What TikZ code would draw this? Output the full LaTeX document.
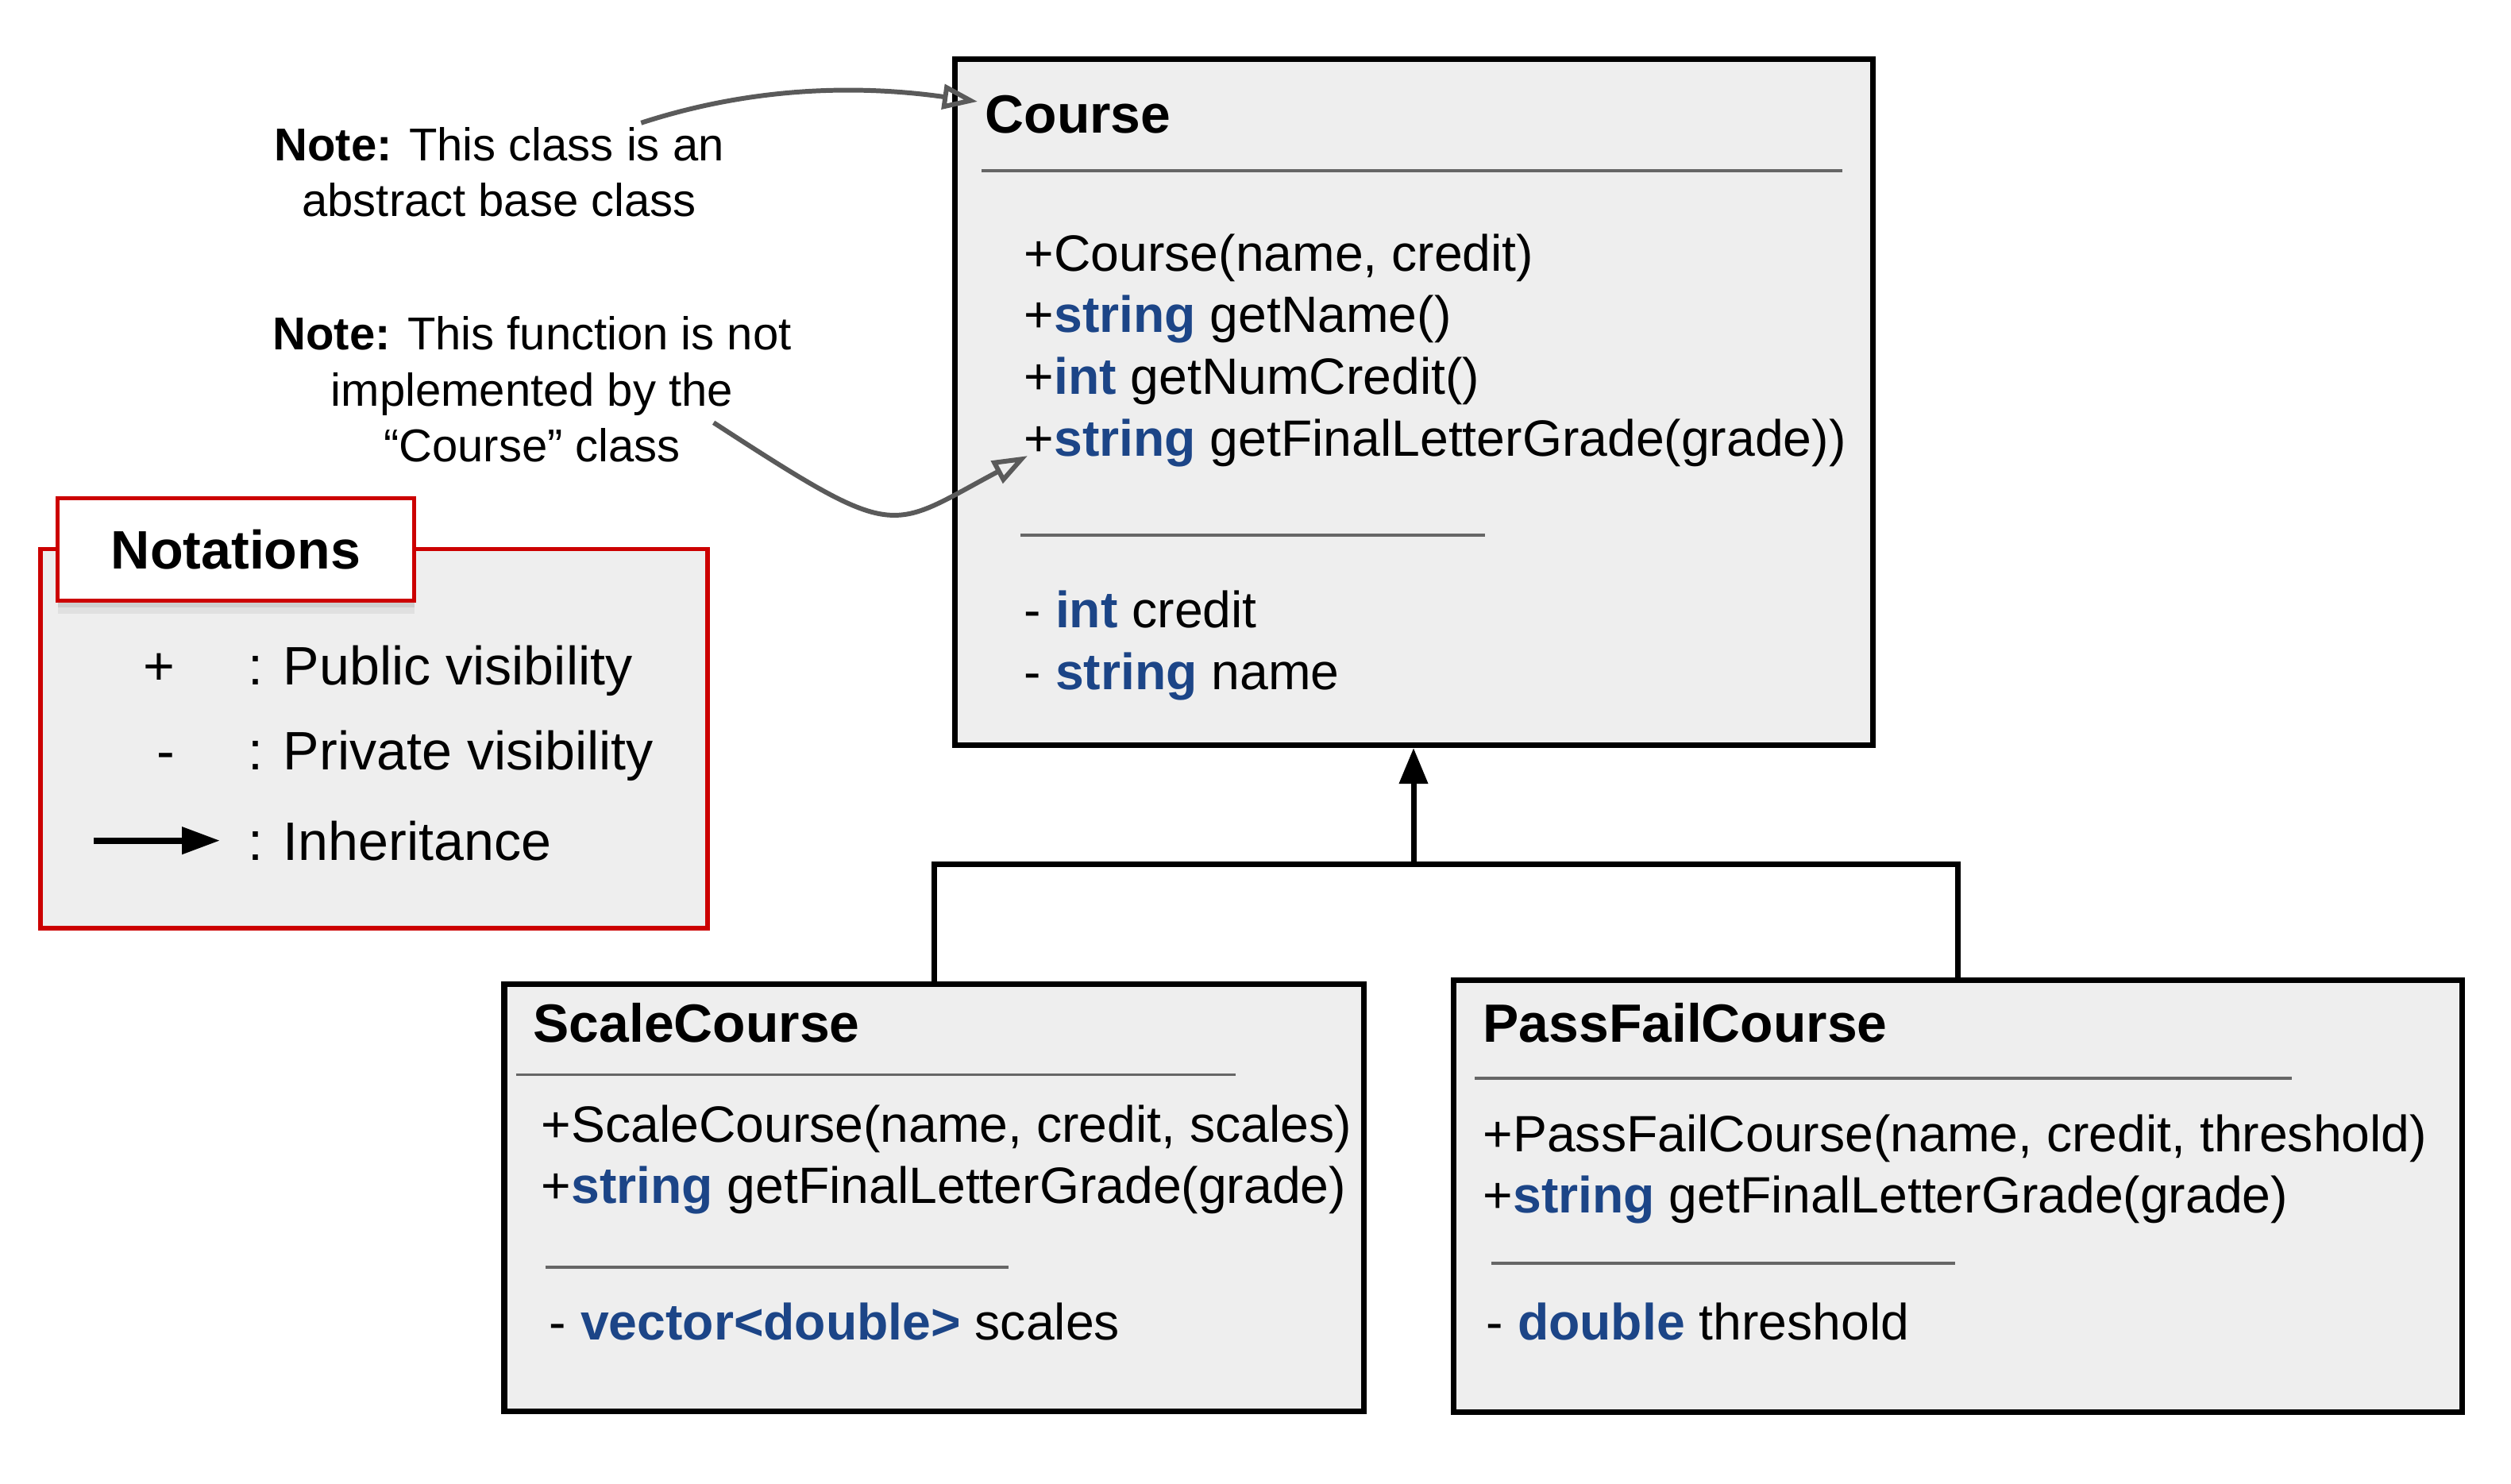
\documentclass[tikz,border=0pt]{standalone}
\usepackage{fontspec}
\setmainfont{Liberation Sans}
\usepackage{xcolor}
\usetikzlibrary{positioning,arrows.meta,shadows}

\definecolor{boxgray}{HTML}{EEEEEE}
\definecolor{typeblue}{RGB}{28,69,135}
\definecolor{notered}{HTML}{CC0000}
\definecolor{rulegray}{HTML}{666666}
\definecolor{notegray}{HTML}{5A5A5A}

\newcommand{\ctype}[1]{\textcolor{typeblue}{\textbf{#1}}}

\begin{document}
\begin{tikzpicture}[%
    >={Triangle[length=0.45cm,width=0.35cm]},
    classbox/.style={%
      draw,
      line width=2pt,
      fill=boxgray
    },
    classname/.style={%
      anchor=base west,
      inner sep=0pt,
      font=\fontsize{19.3}{23}\selectfont\bfseries
    },
    member/.style={%
      anchor=base west,
      inner sep=0pt,
      font=\fontsize{18.3}{22}\selectfont
    },
    divider/.style={draw=rulegray, line width=0.9pt},
    legend/.style={inner sep=0pt, font=\fontsize{19.4}{23}\selectfont},
    note/.style={anchor=base, inner sep=0pt, font=\fontsize{16.5}{20}\selectfont},
    notearrow/.style={%
      draw=notegray,
      line width=1.7pt,
      -{Triangle[open,length=0.44cm,width=0.31cm]}
    },
    connector/.style={line width=2pt}
  ]
  \useasboundingbox (0,0) rectangle (31.62,-18.68);

  % legend
  \node[draw=notered, line width=1.7pt, fill=boxgray, minimum width=8.40cm, minimum height=4.77cm] (legend) at (4.71,-9.30) {};
  \node[draw=notered, line width=1.7pt, fill=white, minimum width=4.49cm, minimum height=1.29cm,
        drop shadow={opacity=0.12, shadow xshift=0pt, shadow yshift=-0.16cm},
        drop shadow={opacity=0.18, shadow xshift=0pt, shadow yshift=-0.08cm},
        font=\fontsize{19.4}{23}\selectfont\bfseries] (notations) at (2.97,-6.92) {Notations};
  \node[legend, anchor=base] (plus) at (2.00,-8.62) {+};
  \node[legend, anchor=base] (minus) at (2.09,-9.69) {-};
  \node[legend, anchor=base west] (public) at (3.12,-8.62) {: Public visibility};
  \node[legend, anchor=base west] (private) at (3.12,-9.69) {: Private visibility};
  \node[legend, anchor=base west] (inheritance) at (3.12,-10.83) {: Inheritance};
  \coordinate (legend-tip) at ([xshift=-0.35cm]inheritance.west);
  \draw[->, line width=2.2pt, >={Triangle[length=0.48cm,width=0.33cm]}] ([xshift=-1.59cm]legend-tip) -- (legend-tip);

  % notes
  \node[note] (note1a) at (6.286,-2.025) {\textbf{Note:} This class is an};
  \node[note] (note1b) at ([yshift=-0.695cm]note1a.base) {abstract base class};
  \node[note] (note2a) at (6.70,-4.40) {\textbf{Note:} This function is not};
  \node[note] (note2b) at ([yshift=-0.717cm]note2a.base) {implemented by the};
  \node[note] (note2c) at ([yshift=-0.693cm]note2b.base) {“Course” class};

  % Course
  \node[classbox, minimum width=11.56cm, minimum height=8.64cm] (course) at (17.80,-5.065) {};
  \node[classname] (course-name) at (12.40,-1.68) {Course};
  \draw[divider] (12.36,-2.15) -- (23.20,-2.15);
  \node[member] (course-m1) at (12.89,-3.41) {+Course(name, credit)};
  \node[member] (course-m2) at ([yshift=-0.777cm]course-m1.base west) {+\ctype{string} getName()};
  \node[member] (course-m3) at ([yshift=-0.777cm]course-m2.base west) {+\ctype{int} getNumCredit()};
  \node[member] (course-m4) at ([yshift=-0.777cm]course-m3.base west) {+\ctype{string} getFinalLetterGrade(grade))};
  \draw[divider] (12.85,-6.74) -- (18.70,-6.74);
  \node[member] (course-a1) at (12.89,-7.90) {- \ctype{int} credit};
  \node[member] (course-a2) at ([yshift=-0.78cm]course-a1.base west) {- \ctype{string} name};

  % ScaleCourse
  \node[classbox, minimum width=10.82cm, minimum height=5.38cm] (scale) at (11.76,-15.08) {};
  \node[classname] (scale-name) at (6.71,-13.128) {ScaleCourse};
  \draw[divider] (6.495,-13.536) -- (15.56,-13.536);
  \node[member] (scale-m1) at (6.81,-14.388) {+ScaleCourse(name, credit, scales)};
  \node[member] (scale-m2) at ([yshift=-0.765cm]scale-m1.base west) {+\ctype{string} getFinalLetterGrade(grade)};
  \draw[divider] (6.867,-15.96) -- (12.70,-15.96);
  \node[member] (scale-a1) at (6.91,-16.878) {- \ctype{vector<double>} scales};

  % PassFailCourse
  \node[classbox, minimum width=12.70cm, minimum height=5.44cm] (pass) at (24.65,-15.06) {};
  \node[classname] (pass-name) at (18.67,-13.124) {PassFailCourse};
  \draw[divider] (18.57,-13.58) -- (28.86,-13.58);
  \node[member] (pass-m1) at (18.67,-14.507) {+PassFailCourse(name, credit, threshold)};
  \node[member] (pass-m2) at ([yshift=-0.767cm]pass-m1.base west) {+\ctype{string} getFinalLetterGrade(grade)};
  \draw[divider] (18.78,-15.91) -- (24.62,-15.91);
  \node[member] (pass-a1) at (18.71,-16.875) {- \ctype{double} threshold};

  % inheritance
  \coordinate (join) at ([yshift=-1.46cm]course.south);
  \draw[connector] (scale.north) |- (join);
  \draw[connector] (pass.north) |- (join);
  \draw[connector, ->] (join) -- (course.south);

  % note arrows
  \draw[notearrow] ([xshift=-1.05cm,yshift=0.05cm]note1a.north east)
    to[out=18, in=172, out distance=1.5cm, in distance=1.5cm] ([xshift=-0.09cm,yshift=-0.08cm]course-name.north west);
  \draw[notearrow] ([xshift=0.41cm,yshift=0.06cm]note2c.north east)
    to[out=-33, in=208, out distance=2.8cm, in distance=2.0cm] ([xshift=0.05cm]course-m4.base west);
\end{tikzpicture}
\end{document}
